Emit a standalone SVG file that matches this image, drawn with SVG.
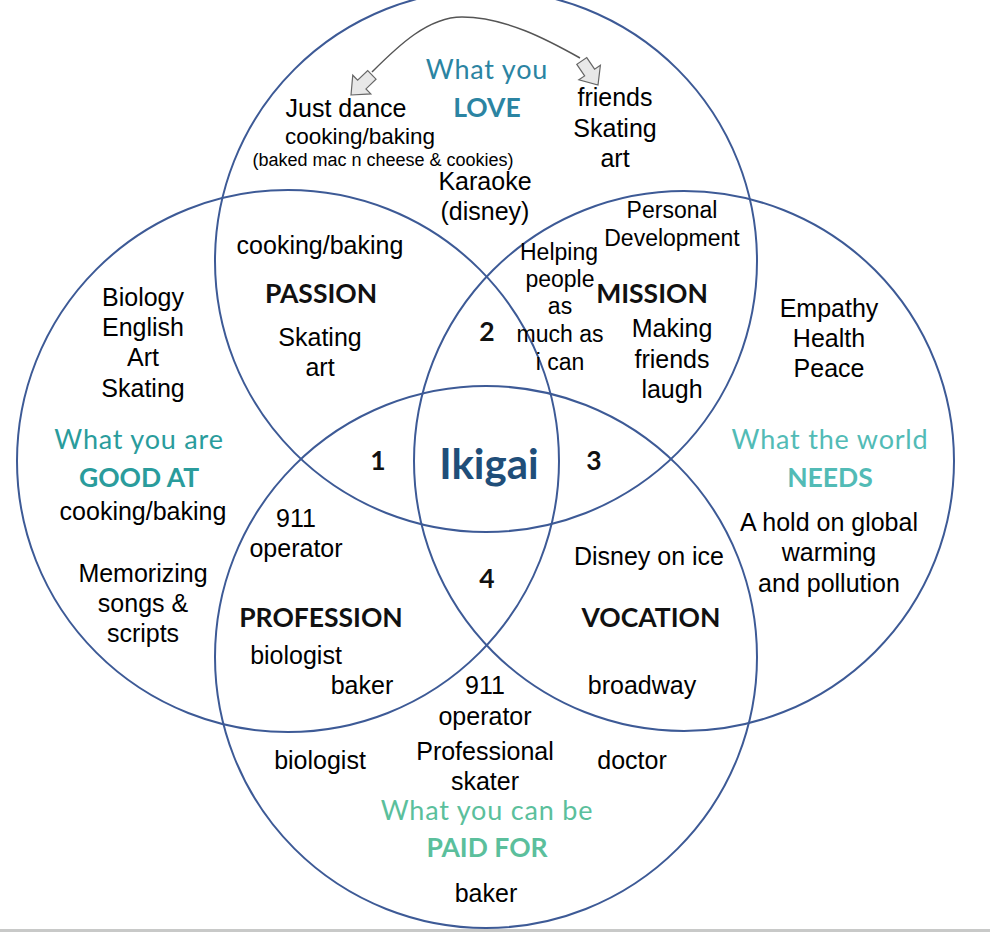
<svg xmlns="http://www.w3.org/2000/svg" width="990" height="934" viewBox="0 0 990 934">
<defs>
<style>
.c{fill:none;stroke:#3d5a96;stroke-width:2}
.t{font-family:"Liberation Sans",Arial,sans-serif;font-size:25px;fill:#000;text-anchor:middle}
.m{font-size:23px}
.sm{font-size:22.5px}
.xs{font-size:18px}
.h{font-family:Lato,"Open Sans",sans-serif;text-anchor:middle;font-size:27px;letter-spacing:0.8px}
.hb{font-family:Lato,"Open Sans",sans-serif;text-anchor:middle;font-size:26.5px;font-weight:bold}
.k{font-family:Lato,"Open Sans",sans-serif;font-weight:bold;font-size:26.5px;fill:#111;text-anchor:middle}
.love{fill:#2b84a2}
.good{fill:#2a9c9c}
.need{fill:#52bbb6}
.paid{fill:#5bbf9c}
.ah{fill:#e8e8e8;stroke:#666;stroke-width:1.2;stroke-linejoin:miter}
</style>
</defs>
<rect width="990" height="934" fill="#fff"/>
<rect x="0" y="929" width="990" height="3" fill="#c8c9c8"/>

<g id="circle-love"><circle class="c" cx="486" cy="261" r="271"/></g>
<g id="circle-good"><circle class="c" cx="288" cy="461" r="271"/></g>
<g id="circle-needs"><circle class="c" cx="684" cy="461" r="270"/></g>
<g id="circle-paid"><circle class="c" cx="486" cy="657" r="271"/></g>

<g id="connectors">
<path d="M372,72 C398,46 428,17 462,17 C505,17 548,40 580,58" fill="none" stroke="#555" stroke-width="1.5"/>
<polygon class="ah" transform="translate(351,95) rotate(136)" points="0,0 -15,-13 -15,-6 -29,-6 -29,6 -15,6 -15,13"/>
<polygon class="ah" transform="translate(598,85) rotate(56)" points="0,0 -15,-13 -15,-6 -29,-6 -29,6 -15,6 -15,13"/>
</g>

<g id="love">
<text class="h love" x="487" y="79">What you</text>
<text class="hb love" x="487" y="117">LOVE</text>
<text class="t" x="346" y="117">Just dance</text>
<text class="t sm" x="360" y="144">cooking/baking</text>
<text class="t xs" x="383" y="166">(baked mac n cheese &amp; cookies)</text>
<text class="t" x="485" y="190">Karaoke</text>
<text class="t" x="485" y="220">(disney)</text>
<text class="t" x="615" y="106">friends</text>
<text class="t" x="615" y="137">Skating</text>
<text class="t" x="615" y="167">art</text>
</g>

<g id="passion">
<text class="t" x="320" y="254">cooking/baking</text>
<text class="k" x="321" y="303">PASSION</text>
<text class="t" x="320" y="346">Skating</text>
<text class="t" x="320" y="376">art</text>
</g>

<g id="mission">
<text class="t m" x="672" y="218">Personal</text>
<text class="t m" x="672" y="246">Development</text>
<text class="t m" x="559" y="260">Helping</text>
<text class="t m" x="560" y="287">people</text>
<text class="t m" x="560" y="314">as</text>
<text class="t m" x="560" y="342">much as</text>
<text class="t m" x="560" y="370">i can</text>
<text class="k" x="652" y="303">MISSION</text>
<text class="t" x="672" y="337">Making</text>
<text class="t" x="672" y="368">friends</text>
<text class="t" x="672" y="398">laugh</text>
</g>

<g id="good-at">
<text class="t" x="143" y="306">Biology</text>
<text class="t" x="143" y="336">English</text>
<text class="t" x="143" y="366">Art</text>
<text class="t" x="143" y="397">Skating</text>
<text class="h good" x="139" y="449">What you are</text>
<text class="hb good" x="139" y="487">GOOD AT</text>
<text class="t" x="143" y="520">cooking/baking</text>
<text class="t" x="143" y="582">Memorizing</text>
<text class="t" x="143" y="612">songs &amp;</text>
<text class="t" x="143" y="642">scripts</text>
</g>

<g id="center">
<text class="k" x="378" y="470">1</text>
<text class="k" x="487" y="341">2</text>
<text class="k" x="594" y="470">3</text>
<text class="k" x="487" y="588">4</text>
<text x="489" y="479" font-family="Lato,'Open Sans',sans-serif" font-weight="bold" font-size="42" fill="#1f4e79" text-anchor="middle">Ikigai</text>
</g>

<g id="needs">
<text class="t" x="829" y="317">Empathy</text>
<text class="t" x="829" y="347">Health</text>
<text class="t" x="829" y="377">Peace</text>
<text class="h need" x="830" y="449">What the world</text>
<text class="hb need" x="830" y="487">NEEDS</text>
<text class="t" x="829" y="531">A hold on global</text>
<text class="t" x="829" y="561">warming</text>
<text class="t" x="829" y="592">and pollution</text>
</g>

<g id="profession">
<text class="t" x="296" y="527">911</text>
<text class="t" x="296" y="557">operator</text>
<text class="k" x="321" y="627">PROFESSION</text>
<text class="t" x="296" y="664">biologist</text>
<text class="t" x="362" y="694">baker</text>
</g>

<g id="vocation">
<text class="t" x="649" y="565">Disney on ice</text>
<text class="k" x="651" y="627">VOCATION</text>
<text class="t" x="642" y="694">broadway</text>
</g>

<g id="paid">
<text class="t" x="485" y="694">911</text>
<text class="t" x="485" y="725">operator</text>
<text class="t" x="320" y="769">biologist</text>
<text class="t" x="485" y="760">Professional</text>
<text class="t" x="485" y="790">skater</text>
<text class="t" x="632" y="769">doctor</text>
<text class="h paid" x="487" y="820">What you can be</text>
<text class="hb paid" x="487" y="857">PAID FOR</text>
<text class="t" x="486" y="902">baker</text>
</g>
</svg>
